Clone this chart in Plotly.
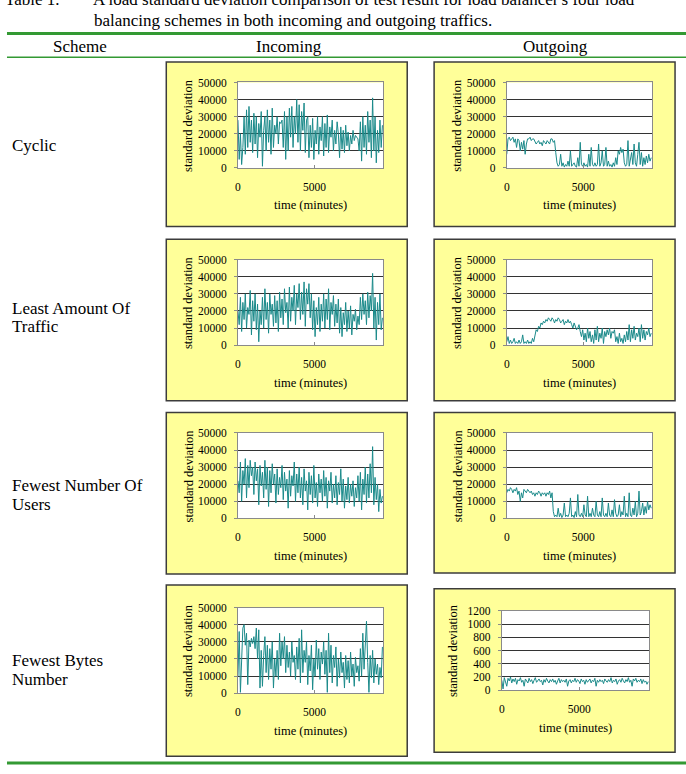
import plotly.graph_objects as go

# ---------------- data (values in thousands for the 50000-scale series) -------------
time = list(range(0, 9500, 80))  # sample times in minutes

cyclic_in = [28, 5, 20, 2, 12,
             30, 8, 34, 12, 36, 15,
             28, 9, 32, 14, 30, 6, 26, 18,
             33, 1, 22,
             30, 10, 34, 15, 28, 8, 35, 12, 25, 20,
             30, 14, 27, 26, 28, 12,
             33, 5, 30, 10, 35, 18,
             36, 12, 30, 20, 40, 15, 37, 10, 33, 22, 38, 9, 28,
             30, 6, 25, 12, 29, 5, 22, 14, 30, 8, 24, 16,
             30, 7, 26, 12, 31, 9, 24, 18, 28, 10, 22, 14, 27,
             20, 6, 24, 11, 22, 9, 25, 13, 21, 10, 19, 14,
             22, 16, 19, 18, 17, 10,
             27, 4, 30, 12, 25, 8, 33, 15, 28, 6,
             41,
             10, 30, 3, 22, 9, 28, 12, 25]

cyclic_out = [8, 17, 18, 16, 17, 18, 15, 17, 12, 17, 16,
              10, 15, 11, 16, 8, 14,
              17, 17, 18, 16, 17, 17, 15, 14, 15, 16, 14,
              15, 13, 16, 15, 14, 16, 15, 14, 17,
              17, 15, 16,
              9, 3, 1,
              2, 8, 1, 3, 0.5, 2, 1, 4,
              1, 10, 1, 2, 3, 1, 0.5, 6,
              1, 15, 2, 1, 3, 1,
              2, 0.5, 8, 1, 12, 2, 1, 3,
              1, 2, 14, 1, 3, 10, 1, 2,
              12, 1, 4, 1, 2, 0.5, 3, 1,
              6, 2, 10, 8, 12, 9, 11, 3,
              1, 2, 16, 1, 5, 9, 2, 14,
              3, 1, 8, 15, 2, 9, 1, 6,
              2, 7, 3, 8, 4, 6]

least_in = [20, 12, 28, 8, 25, 15, 30, 10, 22, 18,
            32, 6, 26, 14, 30, 9, 24, 2, 20, 12,
            28, 10, 33, 15, 25, 7, 30, 18, 24, 11,
            29, 13, 26, 8, 31, 16, 27, 12, 33, 19,
            25, 10, 34, 14, 28, 20, 35, 12, 30, 22,
            36, 15, 31, 18, 37, 11, 33, 24, 36, 16,
            30, 9, 26, 5, 22, 12, 28, 8, 24, 14,
            30, 10, 27, 15, 33, 9, 25, 18, 29, 11,
            24, 13, 27, 7, 22, 5, 19, 12, 25, 8,
            20, 10, 23, 6, 18, 14, 21, 9, 17, 12,
            28, 15, 30, 18, 26, 12, 31, 16, 29, 20,
            42, 10, 28, 3, 25, 12, 30, 9, 16]

least_out = [2, 5, 1, 3, 1, 2, 4, 1, 2, 1,
             3, 1, 2, 6, 1, 2, 1, 3, 1, 2,
             1, 4, 2, 6, 9, 8, 11, 10, 13, 12,
             14, 13, 15, 14, 16, 15, 14, 16, 15, 13,
             15, 14, 16, 15, 13, 14, 15, 12, 14, 13,
             15, 13, 14, 12, 10, 13, 11, 9, 10, 12,
             8, 5, 9, 3, 7, 2, 10, 4, 8, 2,
             6, 1, 9, 3, 11, 2, 7, 4, 10, 1,
             8, 5, 9, 6, 10, 4, 8, 7, 9, 2,
             5, 1, 7, 2, 4, 1, 6, 2, 8, 3,
             12, 2, 9, 4, 11, 3, 7, 5, 10, 2,
             12, 4, 9, 3, 8, 6, 10, 5, 7]

users_in = [22, 15, 33, 10, 28, 20, 35, 12, 31, 18,
            34, 25, 30, 14, 33, 22, 29, 8, 31, 19,
            27, 12, 34, 17, 30, 7, 28, 15, 32, 20,
            26, 9, 29, 14, 24, 18, 31, 11, 27, 16,
            23, 6, 28, 13, 25, 19, 33, 10, 26, 15,
            30, 12, 24, 8, 29, 16, 22, 5, 27, 14,
            25, 9, 31, 12, 21, 7, 26, 15, 23, 10,
            28, 13, 24, 6, 22, 16, 27, 9, 20, 12,
            25, 8, 21, 14, 29, 10, 23, 6, 19, 11,
            24, 9, 20, 13, 22, 7, 18, 12, 25, 10,
            27, 5, 23, 14, 30, 9, 26, 12, 32, 15,
            42, 8, 24, 11, 20, 4, 17, 9, 13]

users_out = [15, 17, 16, 18, 17, 15, 17, 16, 18, 14,
             16, 10, 15, 12, 17, 16, 15, 17, 16, 15,
             16, 14, 15, 13, 15, 14, 16, 15, 13, 15,
             14, 15, 13, 15, 14, 16, 12, 15, 4, 1,
             2, 1, 6, 1, 3, 0.5, 2, 9, 1, 2,
             1, 3, 12, 1, 2, 0.5, 4, 1, 14, 2,
             1, 3, 1, 8, 2, 1, 13, 1, 3, 1,
             6, 2, 1, 10, 2, 1, 4, 1, 12, 2,
             1, 3, 1, 9, 2, 1, 5, 1, 11, 3,
             1, 2, 8, 1, 4, 2, 13, 1, 3, 1,
             15, 2, 1, 6, 2, 10, 1, 3, 16, 2,
             4, 9, 2, 7, 3, 10, 5, 8, 6]

bytes_in = [10, 36, 0.5, 25, 38, 40, 28, 35, 5, 31,
            27, 32, 29, 33, 26, 38, 20, 37, 3, 25,
            4, 22, 33, 12, 28, 8, 26, 14, 30, 3,
            20, 10, 25, 8, 35, 16, 30, 20, 33, 12,
            28, 15, 24, 10, 30, 18, 22, 8, 27, 14,
            32, 6, 37, 12, 25, 18, 30, 5, 22, 13,
            28, 2, 20, 10, 31, 14, 26, 8, 24, 17,
            30, 11, 25, 0.5, 35, 12, 28, 6, 22, 15,
            27, 4, 20, 9, 24, 12, 18, 3, 22, 8,
            19, 6, 24, 10, 17, 4, 21, 12, 16, 7,
            26, 10, 35, 14, 28, 42, 18, 0.5, 22, 9,
            25, 6, 20, 11, 17, 5, 15, 9, 27]

# this one is in plain units (axis 0-1200)
bytes_out = [150, 20, 190, 120, 60, 180, 140, 200, 110, 170,
             130, 180, 90, 160, 140, 190, 120, 150, 60, 170,
             140, 110, 180, 130, 160, 100, 150, 190, 120, 140,
             170, 130, 150, 80, 160, 120, 180, 140, 110, 160,
             130, 170, 120, 150, 90, 140, 180, 110, 160, 130,
             150, 120, 170, 60, 140, 160, 110, 150, 130, 180,
             120, 160, 140, 100, 170, 130, 150, 90, 160, 120,
             140, 170, 110, 150, 130, 180, 60, 150, 120, 160,
             130, 150, 100, 170, 140, 120, 160, 130, 190, 110,
             150, 130, 170, 90, 140, 160, 120, 180, 140, 110,
             160, 130, 190, 120, 150, 60, 170, 140, 180, 120,
             150, 130, 170, 100, 160, 120, 140, 90, 130]

schemes = [["Cyclic"], ["Least Amount Of", "Traffic"],
           ["Fewest Number Of", "Users"], ["Fewest Bytes", "Number"]]
headers = ["Scheme", "Incoming", "Outgoing"]
title_lead = "Table 1."
title_l1 = "A load standard deviation comparison of test result for load balancer's four load"
title_l2 = "balancing schemes in both incoming and outgoing traffics."
ytitle = "standard deviation"
xtitle = "time (minutes)"
big_ticks = [0, 10000, 20000, 30000, 40000, 50000]
small_ticks = [0, 200, 400, 600, 800, 1000, 1200]

series = [
    [v * 1000 for v in cyclic_in], [v * 1000 for v in cyclic_out],
    [v * 1000 for v in least_in], [v * 1000 for v in least_out],
    [v * 1000 for v in users_in], [v * 1000 for v in users_out],
    [v * 1000 for v in bytes_in], list(bytes_out),
]

# ---------------- layout geometry (pixels) ----------------
W, H = 686, 774
FONT = "Liberation Serif"
LINE_COLOR = "#1B8A8A"


def fx(x):
    return x / W


def fy(y):
    return 1 - y / H


# boxes: (x0, y0, x1, y1) ; plots: (x0, y0, x1, y1)
boxes = [(164, 57, 406, 224), (433, 57, 675, 224),
         (164, 237, 406, 401), (433, 237, 675, 401),
         (164, 413, 406, 577), (433, 413, 675, 576),
         (164, 588, 406, 762), (433, 592, 675, 758)]
plots = [(236, 77.7, 382, 164.5), (506, 77.7, 652, 164.5),
         (236, 257.7, 382, 344.5), (506, 257.7, 652, 344.5),
         (236, 433.7, 382, 520.5), (506, 433.7, 652, 520.5),
         (236, 611, 382, 698), (501, 614.3, 649, 695)]

fig = go.Figure()
shapes = []
annotations = []

for (x0, y0, x1, y1) in boxes:
    shapes.append(dict(type="rect", xref="paper", yref="paper",
                       x0=fx(x0), x1=fx(x1), y0=fy(y1), y1=fy(y0),
                       fillcolor="#FFFF99", line=dict(color="#3C3C3C", width=1.5),
                       layer="below"))

for i, (x0, y0, x1, y1) in enumerate(plots):
    n = i + 1
    sfx = "" if n == 1 else str(n)
    shapes.append(dict(type="rect", xref="paper", yref="paper",
                       x0=fx(x0), x1=fx(x1), y0=fy(y1), y1=fy(y0),
                       fillcolor="white", line=dict(width=0), layer="below"))
    fig.add_trace(go.Scatter(x=time, y=series[i], mode="lines",
                             line=dict(color=LINE_COLOR, width=1),
                             xaxis="x" + sfx, yaxis="y" + sfx,
                             showlegend=False, hoverinfo="skip"))
    ticks = small_ticks if i == 7 else big_ticks
    fig.update_layout(**{
        "xaxis" + sfx: dict(domain=[fx(x0), fx(x1)], anchor="y" + sfx,
                            range=[0, 9500], tickvals=[0, 5000],
                            ticktext=["0", "5000"], showgrid=False,
                            zeroline=False, showline=True, mirror=True,
                            linecolor="#8A8A8A", linewidth=1,
                            ticks="inside", ticklen=3, tickcolor="#8A8A8A",
                            ticklabelstandoff=8,
                            tickfont=dict(family=FONT, size=11.5, color="black")),
        "yaxis" + sfx: dict(domain=[fy(y1), fy(y0)], anchor="x" + sfx,
                            range=[0, ticks[-1]], tickvals=ticks,
                            ticktext=[str(t) for t in ticks],
                            showgrid=True, gridcolor="#333333", gridwidth=1,
                            zeroline=False, showline=True, mirror=True,
                            linecolor="#8A8A8A", linewidth=1,
                            ticks="outside", ticklen=3, tickcolor="#8A8A8A",
                            ticklabelstandoff=5,
                            tickfont=dict(family=FONT, size=11.5, color="black")),
    })
    # axis titles
    annotations.append(dict(text=ytitle, xref="paper", yref="paper",
                            x=fx(x0 - 49.5), y=fy((y0 + y1) / 2), textangle=-90,
                            showarrow=False, xanchor="center", yanchor="middle",
                            font=dict(family=FONT, size=12.5, color="black")))
    annotations.append(dict(text=xtitle, xref="paper", yref="paper",
                            x=fx((x0 + x1) / 2), y=fy(y1 + 38), showarrow=False,
                            xanchor="center", yanchor="middle",
                            font=dict(family=FONT, size=12.5, color="black")))

# scheme labels
scheme_y = [[142], [307, 326], [487, 506], [665, 684]]
for lines, ys in zip(schemes, scheme_y):
    for t, yy in zip(lines, ys):
        annotations.append(dict(text=t, xref="paper", yref="paper", x=fx(7), y=fy(yy),
                                xanchor="left", yanchor="middle", showarrow=False,
                                font=dict(family=FONT, size=17, color="black")))

# header
for t, xx in zip(headers, [77, 287, 555]):
    annotations.append(dict(text=t, xref="paper", yref="paper", x=fx(xx), y=fy(41),
                            xanchor="center", yanchor="middle", showarrow=False,
                            font=dict(family=FONT, size=17, color="black")))

# title lines (first line is partly cut at the top edge, as in the source)
annotations.append(dict(text=title_lead, xref="paper", yref="paper", x=fx(0), y=fy(-7),
                        xanchor="left", yanchor="middle", showarrow=False,
                        font=dict(family=FONT, size=17, color="black")))
annotations.append(dict(text=title_l1, xref="paper", yref="paper", x=fx(88), y=fy(-7),
                        xanchor="left", yanchor="middle", showarrow=False,
                        font=dict(family=FONT, size=17, color="black")))
annotations.append(dict(text=title_l2, xref="paper", yref="paper", x=fx(89), y=fy(15),
                        xanchor="left", yanchor="middle", showarrow=False,
                        font=dict(family=FONT, size=17, color="black")))

# green rules
GREEN = "#339933"
shapes.append(dict(type="line", xref="paper", yref="paper", x0=fx(4), x1=1,
                   y0=fy(28), y1=fy(28), line=dict(color=GREEN, width=3)))
shapes.append(dict(type="line", xref="paper", yref="paper", x0=fx(4), x1=1,
                   y0=fy(52), y1=fy(52), line=dict(color=GREEN, width=1.5)))
shapes.append(dict(type="line", xref="paper", yref="paper", x0=fx(4), x1=1,
                   y0=fy(769), y1=fy(769), line=dict(color=GREEN, width=3)))

fig.update_layout(width=W, height=H, autosize=False,
                  margin=dict(l=0, r=0, t=0, b=0, pad=0),
                  paper_bgcolor="white", plot_bgcolor="white",
                  shapes=shapes, annotations=annotations, showlegend=False)

fig.write_html("out.html")
